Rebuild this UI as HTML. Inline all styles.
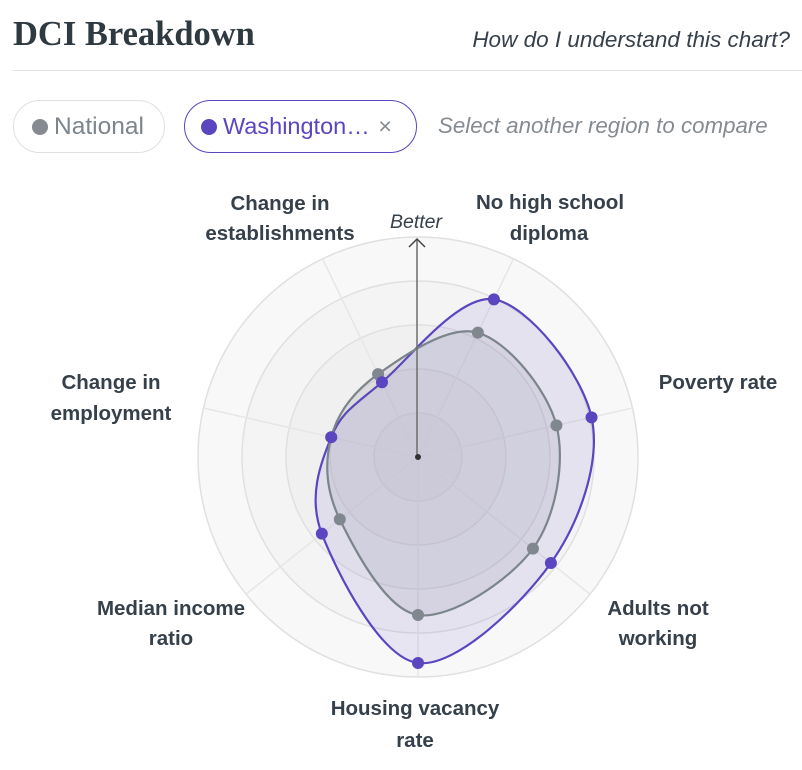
<!DOCTYPE html>
<html><head><meta charset="utf-8"><style>
body{margin:0;width:802px;height:770px;background:#fff;overflow:hidden;font-family:"Liberation Sans","DejaVu Sans",sans-serif;}
.t{position:absolute;white-space:nowrap}
.pill{position:absolute;border-radius:27px;box-sizing:border-box;height:53px;top:100px;font-size:24.5px;line-height:51px}
.dot{display:inline-block;width:16px;height:16px;border-radius:50%;vertical-align:-1px;margin-right:6px}
</style></head><body>
<div class="t" style="left:13px;top:15px;font-family:'Liberation Serif',serif;font-weight:bold;font-size:34.5px;color:#2f3a40">DCI Breakdown</div>
<div class="t" style="right:12px;top:27px;font-style:italic;font-size:22.5px;color:#36404a">How do I understand this chart?</div>
<div style="position:absolute;left:13px;right:0;top:70px;border-top:1px solid #e2e2e2"></div>
<div class="pill" style="left:13px;width:152px;border:1px solid #e0e0e0;color:#7c858c;padding-left:18px"><span class="dot" style="background:#858b91"></span>National</div>
<div class="pill" style="left:184px;width:233px;border:1px solid #5b45c0;color:#5b45c0;padding-left:16px;font-size:23.5px"><span class="dot" style="background:#5b45c0"></span>Washington… <span style="color:#858b91;margin-left:2px">×</span></div>
<div class="t" style="left:438px;top:113px;font-style:italic;font-size:22.3px;color:#858b91">Select another region to compare</div>
<svg width="802" height="770" style="position:absolute;left:0;top:0" id="s">
<g font-size="20.5" font-weight="bold" fill="#36404a" text-anchor="middle">
<text x="280" y="210">Change in</text><text x="280" y="240">establishments</text>
<text x="550" y="209">No high school</text><text x="549" y="240">diploma</text>
<text x="718" y="389">Poverty rate</text>
<text x="658" y="615">Adults not</text><text x="658" y="645">working</text>
<text x="415" y="715">Housing vacancy</text><text x="415" y="747">rate</text>
<text x="171" y="615">Median income</text><text x="171" y="645">ratio</text>
<text x="111" y="389">Change in</text><text x="111" y="420">employment</text>
</g>
<text x="416" y="228" font-size="19.5" font-style="italic" fill="#36404a" text-anchor="middle">Better</text>
</svg>
<script>
var s=document.getElementById('s'),cx=418,cy=457,NS='http://www.w3.org/2000/svg';
function el(t,a,p){var e=document.createElementNS(NS,t);for(var k in a)e.setAttribute(k,a[k]);(p||s).appendChild(e);return e;}
var g=el('g',{});
var fills=['#f8f8f8','#f4f4f4','#f0f0f0','#ececec','#e9e9e9'];
[220,176,132,88,44].forEach(function(r,i){el('circle',{cx:cx,cy:cy,r:r,fill:fills[i],stroke:'#e0e0e0','stroke-width':1.5},g);});
var ang=[];for(var i=0;i<7;i++)ang.push((25.71+i*51.43)*Math.PI/180);
ang.forEach(function(a){el('line',{x1:cx,y1:cy,x2:cx+220*Math.sin(a),y2:cy-220*Math.cos(a),stroke:'#e6e6e6','stroke-width':1.5},g);});
function pts(r){return r.map(function(v,i){return [cx+v*Math.sin(ang[i]),cy-v*Math.cos(ang[i])];});}
function path(p){var n=p.length,d='M'+p[0][0]+','+p[0][1];for(var i=0;i<n;i++){var p0=p[(i-1+n)%n],p1=p[i],p2=p[(i+1)%n],p3=p[(i+2)%n];
d+='C'+(p1[0]+(p2[0]-p0[0])/6)+','+(p1[1]+(p2[1]-p0[1])/6)+' '+(p2[0]-(p3[0]-p1[0])/6)+','+(p2[1]-(p3[1]-p1[1])/6)+' '+p2[0]+','+p2[1];}return d+'Z';}
var P=pts([175,178,170,206,123,89,83]),N=pts([138,142,147,158,100,89,92]);
el('path',{d:path(P),fill:'rgba(91,69,192,0.1)',stroke:'#5b45c0','stroke-width':2.2});
el('path',{d:path(N),fill:'rgba(110,110,130,0.12)',stroke:'#7c848c','stroke-width':2.2});
el('line',{x1:cx-1,y1:cy,x2:cx-1,y2:239,stroke:'#6d6d6d','stroke-width':1.5});
el('path',{d:'M409,247L417,239L425,247',fill:'none',stroke:'#444','stroke-width':1.5});
el('circle',{cx:cx,cy:cy,r:3,fill:'#333'});
N.forEach(function(p){el('circle',{cx:p[0],cy:p[1],r:6,fill:'#80878e'});});
P.forEach(function(p){el('circle',{cx:p[0],cy:p[1],r:6,fill:'#5b45c0'});});
</script>
</body></html>
